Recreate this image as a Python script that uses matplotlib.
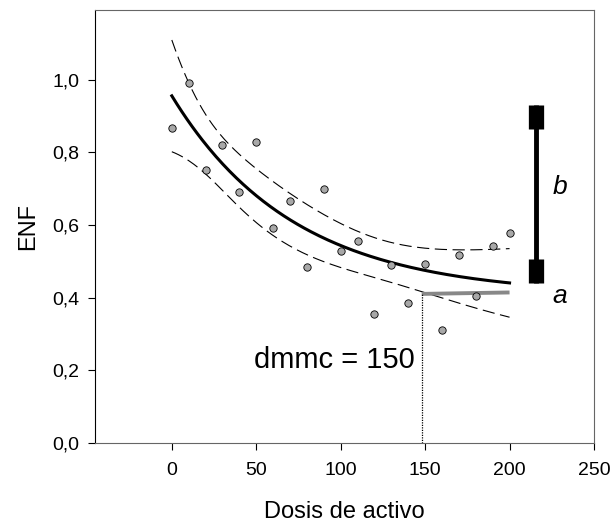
import matplotlib
matplotlib.use("Agg")
import matplotlib.pyplot as plt
import numpy as np

plt.rcParams["font.family"] = ["Liberation Sans", "DejaVu Sans"]

# observed points (dose, ENF)
dosis = np.array([0, 10, 20, 30, 40, 50, 60, 70, 80, 90, 100,
                  110, 120, 130, 140, 150, 160, 170, 180, 190, 200])
enf = np.array([0.867, 0.991, 0.751, 0.820, 0.691, 0.827, 0.591, 0.665, 0.483, 0.698, 0.528,
                0.555, 0.354, 0.489, 0.385, 0.492, 0.310, 0.517, 0.404, 0.543, 0.577])

xticks = [0, 50, 100, 150, 200, 250]
yticks = [0.0, 0.2, 0.4, 0.6, 0.8, 1.0]
ytick_labels = ["0,0", "0,2", "0,4", "0,6", "0,8", "1,0"]

dmmc = 148
asintota_x = [148, 200]
asintota_y = [0.410, 0.414]
b_x = 215.5
b_span = [0.439, 0.930]
b_cap_top = [0.863, 0.930]
b_cap_bot = [0.439, 0.505]


# exponential decay fit y = c + A*exp(-k x), with 95% confidence band
def fit_exp(x, y):
    best = None
    for k in np.linspace(0.002, 0.06, 2000):
        X = np.column_stack([np.ones_like(x, dtype=float), np.exp(-k * x)])
        coef, *_ = np.linalg.lstsq(X, y, rcond=None)
        sse = np.sum((X @ coef - y) ** 2)
        if best is None or sse < best[0]:
            best = (sse, coef[0], coef[1], k)
    return best


sse, c, A, k = fit_exp(dosis.astype(float), enf)
n = len(dosis)
s2 = sse / (n - 3)
J = np.column_stack([np.ones(n), np.exp(-k * dosis), -A * dosis * np.exp(-k * dosis)])
cov = s2 * np.linalg.inv(J.T @ J)
xs = np.linspace(0, 200, 200)
G = np.column_stack([np.ones_like(xs), np.exp(-k * xs), -A * xs * np.exp(-k * xs)])
yhat = c + A * np.exp(-k * xs)
se = np.sqrt(np.einsum("ij,jk,ik->i", G, cov, G))
t = 2.101  # t(0.975, df=18)

fig = plt.figure(figsize=(6.14, 5.24), dpi=100)
ax = fig.add_axes([0.1547, 0.155, 0.8127, 0.826])

ax.plot(xs, yhat + t * se, color="black", lw=0.8, dashes=(11, 5))
ax.plot(xs, yhat - t * se, color="black", lw=0.8, dashes=(11, 5))
ax.plot(xs, yhat, color="black", lw=2.2)
ax.scatter(dosis, enf, s=28, facecolor="#a8a8a8", edgecolor="black", linewidths=0.6, zorder=3)

ax.plot(asintota_x, asintota_y, color="#888888", lw=2.8, solid_capstyle="butt")
ax.plot([dmmc, dmmc], [0, asintota_y[0]], color="black", lw=0.9, dashes=(1, 1))

ax.plot([b_x, b_x], b_span, color="black", lw=3.5, solid_capstyle="butt")
ax.plot([b_x, b_x], b_cap_top, color="black", lw=11, solid_capstyle="butt")
ax.plot([b_x, b_x], b_cap_bot, color="black", lw=11, solid_capstyle="butt")

ax.text(230, 0.705, "b", fontsize=19, style="italic", ha="center", va="center")
ax.text(230, 0.405, "a", fontsize=19, style="italic", ha="center", va="center")
ax.text(144, 0.227, "dmmc = 150", fontsize=21, ha="right", va="center")

ax.set_xlim(-45.5, 250)
ax.set_ylim(0, 1.192)
ax.set_xticks(xticks)
ax.set_yticks(yticks)
ax.set_yticklabels(ytick_labels)
ax.tick_params(direction="out", length=5, width=0.8, labelsize=14, top=False, right=False)
ax.tick_params(axis="x", pad=9)
ax.tick_params(axis="y", pad=6)
ax.set_xlabel("Dosis de activo", fontsize=17, labelpad=16)
ax.set_ylabel("ENF", fontsize=17, labelpad=10)
for side in ["top", "right", "bottom"]:
    ax.spines[side].set_color("#666666")
ax.spines["left"].set_color("black")

fig.savefig("out.png", dpi=100)
